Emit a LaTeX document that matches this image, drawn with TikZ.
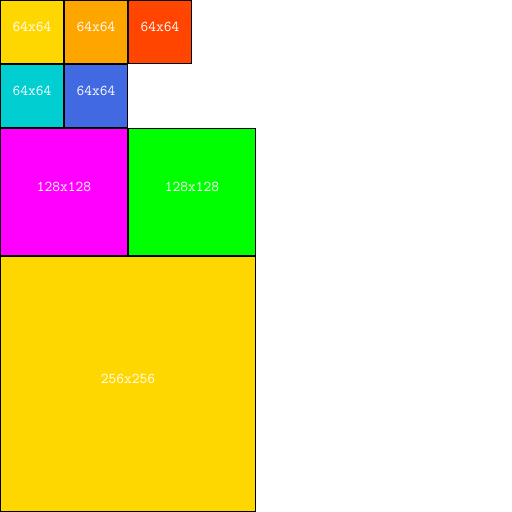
\documentclass[tikz,border=0pt]{standalone}
\usepackage{fontspec}
\usepackage{xcolor}
\definecolor{gold}{RGB}{255, 215, 0}
\definecolor{orange}{RGB}{255, 165, 0}
\definecolor{orangered}{RGB}{255, 69, 0}
\definecolor{darkturquoise}{RGB}{0, 206, 209}
\definecolor{royalblue}{RGB}{65, 105, 225}
\definecolor{magenta}{RGB}{255, 0, 255}
\definecolor{lime}{RGB}{0, 255, 0}

\begin{document}
\begin{tikzpicture}[x=1pt, y=-1pt,
    tile/.style={rectangle, draw=black, line width=1pt, inner sep=0pt,
        text height=9pt, text depth=10pt,
        text=white, font=\fontsize{15}{15}\selectfont\ttfamily}]
    \useasboundingbox[fill=white] (0,0) rectangle (512,512);
    % Small
    \node[tile, fill=gold, minimum size=63pt] (s1) at (32, 32) {64x64};
    \node[tile, fill=orange, minimum size=63pt] (s2) at (96, 32) {64x64};
    \node[tile, fill=orangered, minimum size=63pt] (s3) at (160, 32) {64x64};
    \node[tile, fill=darkturquoise, minimum size=63pt] (s4) at (32, 96) {64x64};
    \node[tile, fill=royalblue, minimum size=63pt] (s5) at (96, 96) {64x64};
    
    % Medium
    \node[tile, fill=magenta, minimum size=127pt] (m1) at (64, 192) {128x128};
    \node[tile, fill=lime, minimum size=127pt] (m2) at (192, 192) {128x128};
    
    % Large
    \node[tile, fill=gold, minimum size=255pt] (l1) at (128, 384) {256x256};
\end{tikzpicture}
\end{document}
